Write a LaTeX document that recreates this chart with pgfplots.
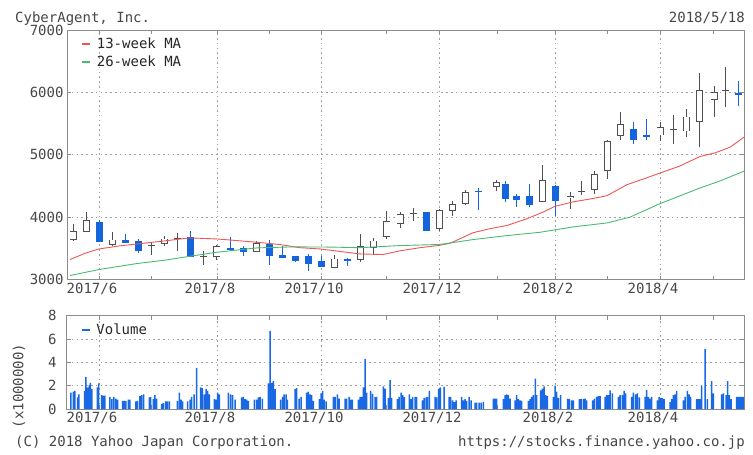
\documentclass[border=0pt]{standalone}
\usepackage{pgfplots}
\pgfplotsset{compat=1.18}
\usepackage{pgfplotstable}
\usepackage{fontspec}
\setmainfont{DejaVu Sans Mono}
\definecolor{txt}{RGB}{70,70,70}
\definecolor{frm}{RGB}{140,140,140}
\definecolor{upc}{RGB}{80,80,80}
\definecolor{dnc}{RGB}{20,100,220}
\definecolor{maA}{RGB}{238,85,85}
\definecolor{maB}{RGB}{75,185,115}
\definecolor{volc}{RGB}{25,105,228}
\definecolor{grd}{RGB}{160,160,160}

% up candles: B=open, T=close
\pgfplotstableread{
x B T L H
73.0 3630 3770 3620 3890
86.1 3765 3960 3760 4090
112.2 3560 3640 3533 3757
151.5 3540 3555 3400 3600
164.6 3576 3656 3533 3693
177.6 3660 3672 3453 3747
203.8 3370 3382 3240 3453
216.9 3360 3533 3320 3560
256.1 3443 3587 3440 3613
334.6 3187 3336 3180 3400
360.8 3309 3533 3283 3736
373.8 3507 3624 3400 3667
386.9 3683 3933 3656 4093
400.0 3896 4051 3827 4083
413.0 4060 4072 3944 4147
439.2 3811 4120 3784 4136
452.3 4104 4211 4013 4253
465.4 4211 4403 4200 4440
496.7 4483 4557 4413 4600
542.3 4243 4600 4240 4829
570.0 4307 4344 4136 4403
581.0 4405 4417 4360 4573
594.3 4429 4691 4376 4744
607.3 4744 5224 4616 5240
620.7 5304 5496 5240 5683
660.0 5309 5443 5224 5523
673.3 5395 5407 5171 5640
686.7 5373 5613 5277 5731
699.3 5523 6040 5123 6307
714.0 5880 6003 5603 6104
725.7 6022 6034 5763 6403
}\uptab

% down candles: B=close, T=open
\pgfplotstableread{
x B T L H
99.2 3605 3925 3600 3960
125.3 3590 3640 3585 3730
138.4 3453 3613 3427 3656
190.7 3360 3683 3355 3773
230.0 3480 3500 3453 3683
243.0 3443 3507 3373 3544
269.2 3373 3570 3240 3640
282.3 3347 3400 3340 3533
295.4 3304 3373 3277 3380
308.4 3256 3373 3133 3416
321.5 3203 3293 3200 3373
347.6 3293 3336 3213 3340
426.0 3784 4083 3780 4090
478.4 4405 4420 4109 4467
505.7 4291 4536 4243 4573
516.0 4280 4333 4157 4371
529.3 4189 4333 4157 4531
555.7 4253 4493 4013 4509
633.3 5240 5411 5171 5523
646.7 5283 5320 5240 5571
738.3 5965 5990 5784 6189
}\dntab

\pgfplotstableread{
x y
70 3320
85 3420
99 3490
120 3540
138 3571
165 3620
190 3667
217 3650
240 3620
257 3597
280 3560
300 3510
320 3490
340 3450
360 3410
383 3400
400 3460
420 3510
438 3544
450 3580
473 3750
490 3815
507 3866
527 3975
543 4080
555 4173
573 4245
590 4290
607 4344
627 4520
645 4620
660 4707
680 4820
700 4973
715 5030
730 5120
745 5293
}\maone

\pgfplotstableread{
x y
70 3064
99 3160
137 3256
165 3310
190 3373
217 3437
257 3507
293 3523
330 3520
360 3510
400 3544
440 3562
473 3640
507 3704
540 3757
573 3843
607 3907
630 4000
660 4216
700 4467
720 4580
745 4744
}\matwo

\pgfplotstableread{
x v
71.0 1.4
73.3 1.5
75.0 1.55
77.7 1.0
79.0 1.25
84.7 1.55
86.0 2.75
87.7 1.85
89.3 2.05
90.3 2.25
92.0 1.7
97.3 1.85
98.7 2.2
101.7 1.2
103.3 1.15
105.0 1.15
110.0 1.05
112.0 0.85
114.0 1.05
116.0 0.9
117.7 0.8
122.7 0.7
124.3 0.7
126.0 0.7
128.3 0.8
130.0 0.8
136.0 0.65
137.7 0.7
140.0 1.1
141.7 1.2
143.7 1.25
149.3 1.0
150.7 1.05
153.3 0.85
155.0 1.2
156.7 0.9
161.7 0.45
163.3 0.5
165.7 0.65
167.3 0.65
169.3 0.65
177.3 0.7
179.3 1.4
181.0 0.8
182.7 0.65
187.7 0.65
190.0 0.8
191.7 1.05
194.0 1.25
196.7 3.5
200.7 1.85
202.3 1.8
204.3 1.25
206.0 1.7
207.7 1.55
209.3 1.25
214.3 0.85
216.0 0.8
217.7 1.4
219.3 1.25
228.3 1.4
230.7 1.25
232.7 1.2
235.0 0.8
241.7 1.0
243.3 1.05
245.0 0.85
246.7 0.8
248.3 0.7
254.3 0.8
256.7 0.8
258.3 1.0
260.0 1.05
262.3 0.9
268.3 2.2
270.0 6.7
271.7 2.25
273.3 2.4
275.0 1.7
280.7 0.8
282.7 1.05
284.0 1.25
286.0 1.25
287.3 0.8
295.0 1.7
296.7 1.8
299.0 0.9
301.0 1.05
306.7 1.4
308.3 1.5
310.0 1.25
311.7 1.2
313.3 0.7
319.3 0.85
321.0 1.35
322.7 1.55
324.0 0.8
326.0 0.65
333.3 1.05
335.0 1.05
337.3 1.25
339.0 0.9
345.0 0.9
346.7 0.9
349.0 1.05
350.7 0.8
352.3 0.8
358.3 0.8
360.0 1.05
361.7 1.05
363.3 1.85
365.0 4.3
366.7 1.4
370.7 1.55
372.7 1.3
375.0 1.05
376.7 1.05
383.3 1.95
385.0 1.75
388.3 0.95
390.0 2.5
391.7 0.95
397.3 0.85
399.0 1.05
401.0 1.4
402.7 1.2
404.3 1.05
409.3 1.25
411.0 0.85
412.7 1.05
415.0 1.05
416.7 1.05
422.3 0.75
424.0 0.95
426.0 1.0
427.3 1.05
429.3 1.55
435.0 1.05
436.7 1.0
438.7 1.75
440.3 1.85
444.0 1.9
449.0 1.05
450.7 1.05
452.7 0.75
454.3 0.6
456.0 0.75
461.7 1.05
463.3 0.75
465.0 0.85
466.7 0.7
469.0 1.05
471.0 0.75
475.0 0.55
476.7 0.55
479.0 0.55
481.0 0.55
483.3 0.6
493.3 0.9
495.0 0.9
496.7 0.9
503.3 0.85
505.0 1.2
506.7 1.25
508.3 1.2
510.0 0.9
515.0 0.75
516.7 1.2
518.3 0.85
520.0 0.75
521.7 0.7
528.3 0.7
530.0 0.85
531.7 1.05
533.3 1.2
535.3 2.6
536.7 1.2
540.7 1.6
542.3 1.75
544.0 1.95
545.7 1.2
547.3 1.1
553.3 1.05
555.0 2.0
556.7 1.5
558.3 0.95
560.7 1.2
567.7 0.9
569.3 0.85
571.7 0.75
573.3 0.75
579.3 0.85
581.0 0.85
583.3 0.85
585.0 0.9
586.7 0.75
592.7 0.75
594.3 0.9
596.7 1.05
598.3 1.1
600.0 1.1
605.0 1.05
606.7 1.2
608.3 1.2
610.0 1.6
612.3 1.35
618.3 1.05
620.0 1.2
622.3 1.2
624.0 1.55
625.7 1.35
631.7 1.05
633.3 1.4
635.7 1.25
637.3 1.35
639.3 1.0
645.0 1.05
646.7 1.65
648.3 1.05
650.0 0.9
651.7 1.05
657.3 0.75
659.0 1.05
660.7 0.95
662.3 0.95
664.0 0.85
670.0 0.6
671.7 0.85
673.3 1.2
675.0 1.25
676.7 1.55
683.3 0.75
685.0 1.05
687.3 1.55
689.0 1.25
690.7 1.05
696.7 0.85
698.3 0.85
700.0 0.85
701.7 2.0
705.0 5.15
707.3 0.85
711.7 2.4
713.3 1.35
721.7 1.25
723.3 1.35
726.0 1.2
727.7 2.4
729.3 1.2
731.0 0.85
736.7 1.05
738.3 1.05
740.0 1.05
741.7 1.05
743.3 1.05
}\voltab

\newcommand{\bigf}{\fontsize{14}{16}\selectfont}

\pgfplotsset{
  chartbase/.style={
    scale only axis, width=677pt,
    xmin=67, xmax=744,
    axis line style={frm, line width=1pt},
    tick style={frm, line width=0.8pt},
    major tick length=4pt, minor tick length=4pt,
    xtick={99,217,321,439,555,660},
    xticklabels={2017/6,2017/8,2017/10,2017/12,2018/2,2018/4},
    minor xtick={151,269,386,497,607,713},
    xmajorgrids, ymajorgrids,
    major grid style={grd, dash pattern=on 1.6pt off 3.2pt, line width=0.8pt},
    tick label style={font=\bigf, text=txt},
    xticklabel style={xshift=-7pt},
    /pgf/number format/assume math mode=true,
    /pgf/number format/1000 sep={},
    scaled y ticks=false,
    legend cell align=left,
    legend style={draw=none, fill=none, font=\bigf, text=black!85,
      anchor=north west, inner sep=0pt, row sep=2pt,
      nodes={inner sep=2pt}},
  },
  candle/.style={draw=none, mark=none, forget plot,
    error bars/.cd, y dir=plus, y explicit, error mark=none},
}

\begin{document}
\begin{tikzpicture}
\useasboundingbox (0,0) rectangle (753pt,-455pt);

\begin{axis}[chartbase,
  at={(67pt,-279.5pt)}, anchor=south west, height=249.5pt,
  ymin=3000, ymax=7000, ytick={3000,4000,5000,6000,7000},
  legend style={at={(axis description cs:0.021,0.977)}},
  legend image code/.code={\draw[#1, draw opacity=1, line width=2pt] (0pt,0pt) -- (8pt,0pt); \path (12pt,0pt);},
]
% up wicks
\addplot[candle, error bar style={draw=upc, line width=0.9pt}]
  table[x=x, y=L, y error plus expr=\thisrow{H}-\thisrow{L}] {\uptab};
% up bodies outline
\addplot[candle, error bar style={draw=upc, line width=7pt}]
  table[x=x, y=B, y error plus expr=\thisrow{T}-\thisrow{B}] {\uptab};
% up bodies inner white
\addplot[candle, error bar style={draw=white, line width=5.2pt}]
  table[x=x, y expr=\thisrow{B}+14.4, y error plus expr={max(\thisrow{T}-\thisrow{B}-28.8,0)}] {\uptab};
% down wicks
\addplot[candle, error bar style={draw=dnc, line width=0.9pt}]
  table[x=x, y=L, y error plus expr=\thisrow{H}-\thisrow{L}] {\dntab};
% down bodies
\addplot[candle, error bar style={draw=dnc, line width=7pt}]
  table[x=x, y=B, y error plus expr=\thisrow{T}-\thisrow{B}] {\dntab};

\addplot[maA, line width=0.9pt, mark=none] table[x=x,y=y] {\maone};
\addlegendentry{13-week MA}
\addplot[maB, line width=0.9pt, mark=none] table[x=x,y=y] {\matwo};
\addlegendentry{26-week MA}
\end{axis}

\begin{axis}[chartbase,
  at={(67pt,-409pt)}, anchor=south west, height=93.3pt,
  ymin=0, ymax=8, ytick={0,2,4,6,8},
  yticklabel style={xshift=-7pt},
  ylabel={(x1000000)},
  ylabel style={font=\bigf, text=txt, at={(axis description cs:-0.071,0.246)}, anchor=center, rotate=0},
  legend style={at={(axis description cs:0.021,0.94)}},
  legend image code/.code={\draw[draw=volc, line width=2pt] (0pt,0pt) -- (8pt,0pt); \path (12pt,0pt);},
]
\addplot[ybar, bar width=1.5pt, fill=volc, draw=none, bar shift=0pt] table[x=x,y=v] {\voltab};
\addlegendentry{Volume}
\end{axis}

\node[anchor=base west, font=\bigf, text=txt, inner sep=0pt] at (15pt,-22pt) {CyberAgent, Inc.};
\node[anchor=base east, font=\bigf, text=txt, inner sep=0pt] at (745pt,-22pt) {2018/5/18};
\node[anchor=base west, font=\bigf, text=txt, inner sep=0pt] at (15pt,-446pt) {(C) 2018 Yahoo Japan Corporation.};
\node[anchor=base east, font=\bigf, text=txt, inner sep=0pt] at (745pt,-446.5pt) {https://stocks.finance.yahoo.co.jp};
\end{tikzpicture}
\end{document}
